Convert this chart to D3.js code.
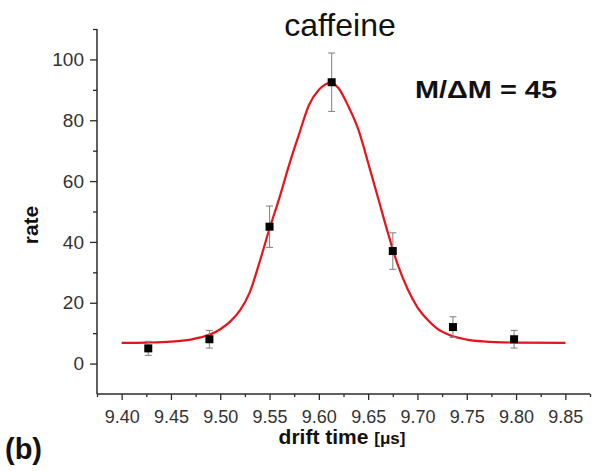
<!DOCTYPE html>
<html>
<head>
<meta charset="utf-8">
<script src="https://cdn.jsdelivr.net/npm/d3@7"></script>
<style>
  html, body { margin: 0; padding: 0; background: #fff; }
  svg { display: block; font-family: "Liberation Sans", Arial, sans-serif; }
</style>
</head>
<body>
<svg id="chart" width="598" height="471"></svg>
<script>
// ---- data ----
const pointTimes  = [9.427, 9.489, 9.550, 9.613, 9.675, 9.736, 9.798];
const pointRates  = [5, 8, 45, 92.5, 37, 12, 8];
const pointErrors = [2.3, 2.9, 6.8, 9.6, 6.0, 3.4, 2.9];

const fitTimes = [9.400, 9.425, 9.450, 9.470, 9.480, 9.490, 9.500, 9.510, 9.520, 9.530,
                  9.540, 9.550, 9.560, 9.570, 9.580, 9.590, 9.600, 9.6125, 9.620, 9.630,
                  9.640, 9.650, 9.660, 9.670, 9.680, 9.690, 9.700, 9.710, 9.720, 9.733,
                  9.750, 9.767, 9.800, 9.850];
const fitRates = [6.8, 6.9, 7.2, 7.9, 8.6, 9.6, 11.3, 13.8, 17.5, 23.5,
                  33.5, 44.4, 54.5, 65.5, 75.5, 85.0, 90.0, 92.4, 90.5, 84.5,
                  77.0, 66.0, 54.5, 43.0, 32.5, 24.5, 18.5, 14.5, 11.5, 9.3,
                  7.9, 7.3, 6.9, 6.8];

const xMajorTicks = [9.40, 9.45, 9.50, 9.55, 9.60, 9.65, 9.70, 9.75, 9.80, 9.85];
const xMinorTicks = [9.375, 9.425, 9.475, 9.525, 9.575, 9.625, 9.675, 9.725, 9.775, 9.825, 9.875];
const yMajorTicks = [0, 20, 40, 60, 80, 100];
const yMinorTicks = [10, 30, 50, 70, 90, 110];

const titleText = "caffeine";
const xLabel = "drift time ";
const xUnit = "[\u03bcs]";
const yLabel = "rate";
const annotation = "M/\u0394M = 45";
const panelLabel = "(b)";

// ---- drawing ----
(function () {
const svg = d3.select("#chart");
const mL = 97, mR = 590, mT = 29, mB = 394;

const x = d3.scaleLinear().domain([9.375, 9.875]).range([mL, mR]);
const y = d3.scaleLinear().domain([-10, 110]).range([mB, mT]);

const axisColor = "#2b2b2b";
const labelColor = "#333";

// x axis
const gx = svg.append("g").attr("transform", `translate(0,${mB})`);
gx.call(d3.axisBottom(x).tickValues(xMinorTicks).tickSize(3).tickFormat(""))
  .call(g => g.select(".domain").remove());
gx.append("g").call(d3.axisBottom(x).tickValues(xMajorTicks).tickSize(6).tickPadding(10)
  .tickFormat(d3.format(".2f")))
  .call(g => g.select(".domain").remove())
  .call(g => g.selectAll("text").attr("font-size", 18).attr("fill", labelColor)
     .attr("font-family", "Liberation Sans, Arial, sans-serif"));
gx.selectAll("line").attr("stroke", axisColor).attr("stroke-width", 1.3);
gx.append("line").attr("x1", mL).attr("x2", mR).attr("y1", 0).attr("y2", 0)
  .attr("stroke", axisColor).attr("stroke-width", 1.5);

// y axis
const gy = svg.append("g").attr("transform", `translate(${mL},0)`);
gy.call(d3.axisLeft(y).tickValues(yMinorTicks).tickSize(4).tickFormat(""))
  .call(g => g.select(".domain").remove());
gy.append("g").call(d3.axisLeft(y).tickValues(yMajorTicks).tickSize(7).tickPadding(6)
  .tickFormat(d3.format("d")))
  .call(g => g.select(".domain").remove())
  .call(g => g.selectAll("text").attr("font-size", 19).attr("fill", labelColor)
     .attr("font-family", "Liberation Sans, Arial, sans-serif"));
gy.selectAll("line").attr("stroke", axisColor).attr("stroke-width", 1.3);
gy.append("line").attr("x1", 0).attr("x2", 0).attr("y1", mT).attr("y2", mB)
  .attr("stroke", axisColor).attr("stroke-width", 1.5);

// fit curve
const line = d3.line().x((d, i) => x(fitTimes[i])).y((d, i) => y(fitRates[i])).curve(d3.curveMonotoneX);
svg.append("path").datum(fitRates).attr("d", line)
  .attr("fill", "none").attr("stroke", "#e8131b").attr("stroke-width", 2.2);

// error bars
const pts = pointTimes.map((t, i) => ({t, v: pointRates[i], e: pointErrors[i]}));
const eb = svg.append("g").attr("stroke", "#8a8a8a").attr("stroke-width", 1.1);
eb.selectAll(".v").data(pts).join("line")
  .attr("x1", d => x(d.t)).attr("x2", d => x(d.t))
  .attr("y1", d => y(d.v - d.e)).attr("y2", d => y(d.v + d.e));
eb.selectAll(".t").data(pts).join("line")
  .attr("x1", d => x(d.t) - 3.5).attr("x2", d => x(d.t) + 3.5)
  .attr("y1", d => y(d.v + d.e)).attr("y2", d => y(d.v + d.e));
eb.selectAll(".b").data(pts).join("line")
  .attr("x1", d => x(d.t) - 3.5).attr("x2", d => x(d.t) + 3.5)
  .attr("y1", d => y(d.v - d.e)).attr("y2", d => y(d.v - d.e));

// markers
svg.append("g").selectAll("rect").data(pts).join("rect")
  .attr("x", d => x(d.t) - 4).attr("y", d => y(d.v) - 4)
  .attr("width", 8).attr("height", 8).attr("fill", "#000");

// title
svg.append("text").attr("x", 340).attr("y", 36).attr("text-anchor", "middle")
  .attr("font-size", 32).attr("fill", "#111").text(titleText);

// annotation
svg.append("text").attr("x", 415).attr("y", 98)
  .attr("font-size", 23).attr("font-weight", "bold").attr("fill", "#111")
  .attr("textLength", 142).attr("lengthAdjust", "spacingAndGlyphs")
  .text(annotation);

// x label
const xl = svg.append("text").attr("x", 342).attr("y", 444).attr("text-anchor", "middle")
  .attr("font-weight", "bold").attr("fill", "#111");
xl.append("tspan").attr("font-size", 21).text(xLabel);
xl.append("tspan").attr("font-size", 17).text(xUnit);

// y label
svg.append("text").attr("transform", "translate(38,225) rotate(-90)")
  .attr("text-anchor", "middle").attr("font-size", 21).attr("font-weight", "bold")
  .attr("fill", "#111").text(yLabel);

// panel label
svg.append("text").attr("x", 5).attr("y", 459)
  .attr("font-size", 29).attr("font-weight", "bold").attr("fill", "#111").text(panelLabel);
})();
</script>
</body>
</html>
